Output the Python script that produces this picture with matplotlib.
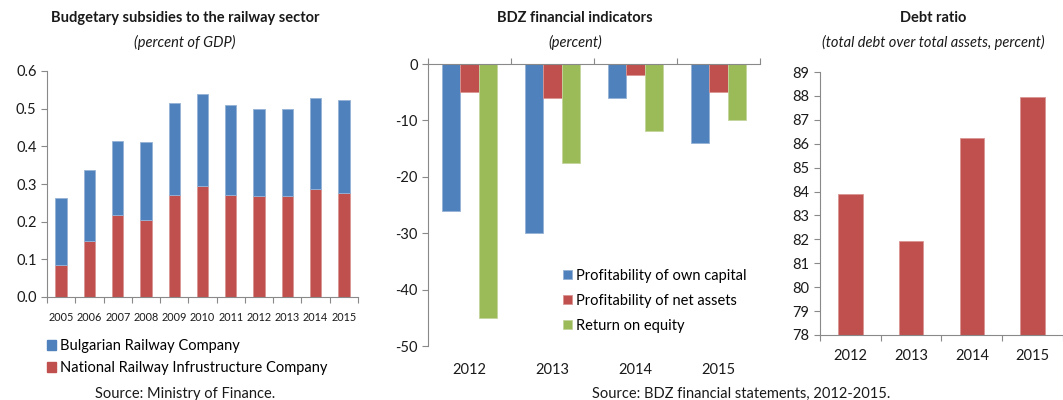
import numpy as np
import matplotlib
matplotlib.use('Agg')
import matplotlib.pyplot as plt
from matplotlib.patches import Patch

plt.rcParams['font.family'] = ['Lato', 'DejaVu Sans']
plt.rcParams['axes.unicode_minus'] = False

# subsidies (percent of GDP)
years_sub = ['2005', '2006', '2007', '2008', '2009', '2010', '2011', '2012', '2013', '2014', '2015']
nric = [0.085, 0.148, 0.218, 0.205, 0.270, 0.295, 0.272, 0.267, 0.267, 0.287, 0.277]
brc = [0.177, 0.189, 0.195, 0.206, 0.244, 0.245, 0.237, 0.232, 0.232, 0.242, 0.245]

# BDZ financial indicators (percent)
years_bdz = ['2012', '2013', '2014', '2015']
own_capital = [-26, -30, -6, -14]
net_assets = [-5, -6, -2, -5]
roe = [-45, -17.5, -11.8, -9.9]

# debt ratio
debt_ratio = [83.9, 81.95, 86.25, 87.95]

BLUE = '#4F81BD'
RED = '#C0504D'
GREEN = '#9BBB59'
GREY = '#898989'
TXT = '#1a1a1a'

fig = plt.figure(figsize=(10.63, 4), dpi=100)


def style(ax):
    for s in ['top', 'right']:
        ax.spines[s].set_visible(False)
    for s in ['left', 'bottom']:
        ax.spines[s].set_color(GREY)
        ax.spines[s].set_linewidth(0.8)
    ax.tick_params(axis='y', colors=GREY, labelcolor=TXT, length=4, width=0.8, labelsize=10.5)


# ---- chart 1
ax1 = fig.add_axes([0.0442, 0.2575, 0.2926, 0.565])
x = np.arange(len(years_sub))
ax1.bar(x, nric, width=0.4, color=RED, edgecolor='#d99694', linewidth=0.6)
ax1.bar(x, brc, width=0.4, bottom=nric, color=BLUE, edgecolor='#95b3d7', linewidth=0.6)
ax1.set_xlim(-0.5, len(x) - 0.5)
ax1.set_ylim(0, 0.6)
ax1.set_yticks(np.arange(0, 0.61, 0.1))
ax1.set_yticklabels(['0.0', '0.1', '0.2', '0.3', '0.4', '0.5', '0.6'])
ax1.set_xticks(x)
ax1.set_xticklabels(years_sub, fontsize=7.8)
ax1.set_xticks(np.arange(-0.5, len(x), 1), minor=True)
style(ax1)
ax1.tick_params(axis='x', which='major', length=0, pad=11, labelcolor=TXT)
ax1.tick_params(axis='x', which='minor', length=4, colors=GREY, width=0.8)
fig.text(0.174, 0.955, 'Budgetary subsidies to the railway sector', ha='center', va='center',
         fontsize=10.5, fontweight='bold', color=TXT)
fig.text(0.174, 0.893, '(percent of GDP)', ha='center', va='center', fontsize=10.5,
         style='italic', color=TXT)
fig.legend(handles=[Patch(color=BLUE, label='Bulgarian Railway Company'),
                    Patch(color=RED, label='National Railway Infrustructure Company')],
           loc='upper left', bbox_to_anchor=(0.044, 0.152), frameon=False, fontsize=10.5,
           handlelength=0.6, handleheight=0.6, handletextpad=0.3, labelspacing=0.55,
           borderaxespad=0, borderpad=0)
fig.text(0.174, 0.015, 'Source: Ministry of Finance.', ha='center', va='center', fontsize=10.5, color=TXT)

# ---- chart 2
ax2 = fig.add_axes([0.4026, 0.135, 0.3123, 0.705])
xb = np.arange(len(years_bdz))
w = 0.22
ax2.bar(xb - w, own_capital, width=w, color=BLUE, edgecolor='#95b3d7', linewidth=0.6,
        label='Profitability of own capital')
ax2.bar(xb, net_assets, width=w, color=RED, edgecolor='#d99694', linewidth=0.6,
        label='Profitability of net assets')
ax2.bar(xb + w, roe, width=w, color=GREEN, edgecolor='#c3d69b', linewidth=0.6,
        label='Return on equity')
ax2.set_xlim(-0.5, len(xb) - 0.5)
ax2.set_ylim(-50, 0)
ax2.set_yticks(np.arange(-50, 1, 10))
ax2.set_xticks(xb)
ax2.set_xticklabels(years_bdz, fontsize=10.5)
ax2.set_xticks(np.arange(-0.5, len(xb), 1), minor=True)
style(ax2)
ax2.spines['bottom'].set_visible(False)
ax2.spines['top'].set_visible(True)
ax2.spines['top'].set_color(GREY)
ax2.spines['top'].set_linewidth(0.8)
ax2.tick_params(axis='x', which='major', bottom=False, top=False, pad=9, labelcolor=TXT)
ax2.tick_params(axis='x', which='minor', bottom=False, top=True, direction='out', length=4,
                colors=GREY, width=0.8)
ax2.legend(loc='lower right', bbox_to_anchor=(1.0, 0.0), frameon=False, fontsize=10.5,
           handlelength=0.6, handleheight=0.6, handletextpad=0.3, labelspacing=0.75)
fig.text(0.541, 0.955, 'BDZ financial indicators', ha='center', va='center',
         fontsize=10.5, fontweight='bold', color=TXT)
fig.text(0.541, 0.893, '(percent)', ha='center', va='center', fontsize=10.5,
         style='italic', color=TXT)
fig.text(0.697, 0.015, 'Source: BDZ financial statements, 2012-2015.', ha='center', va='center',
         fontsize=10.5, color=TXT)

# ---- chart 3
ax3 = fig.add_axes([0.7714, 0.1625, 0.2286, 0.6575])
ax3.bar(xb, np.array(debt_ratio) - 78, bottom=78, width=0.4, color=RED,
        edgecolor='#d99694', linewidth=0.6)
ax3.set_xlim(-0.5, len(xb) - 0.5)
ax3.set_ylim(78, 89)
ax3.set_yticks(np.arange(78, 90, 1))
ax3.set_xticks(xb)
ax3.set_xticklabels(years_bdz, fontsize=10.5)
ax3.set_xticks(np.arange(-0.5, len(xb), 1), minor=True)
style(ax3)
ax3.tick_params(axis='x', which='major', length=0, pad=10, labelcolor=TXT)
ax3.tick_params(axis='x', which='minor', length=4, colors=GREY, width=0.8)
fig.text(0.878, 0.955, 'Debt ratio', ha='center', va='center',
         fontsize=10.5, fontweight='bold', color=TXT)
fig.text(0.878, 0.893, '(total debt over total assets, percent)', ha='center', va='center',
         fontsize=10.5, style='italic', color=TXT)

fig.savefig('out.png', dpi=100)
